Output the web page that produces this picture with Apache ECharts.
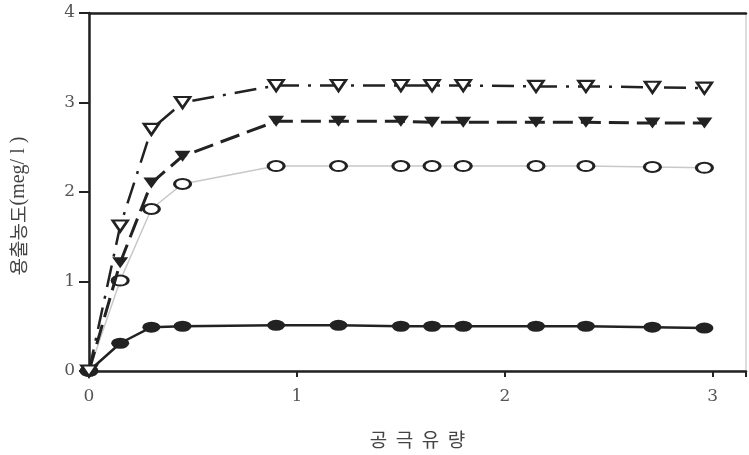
<!DOCTYPE html>
<html><head><meta charset="utf-8">
<script src="https://cdn.jsdelivr.net/npm/echarts@6/dist/echarts.min.js"></script>
<style>html,body{margin:0;padding:0;background:#fff}#c{width:749px;height:455px}</style>
</head><body><div id="c"></div>
<script>
const xValues = [0, 0.15, 0.30, 0.45, 0.90, 1.20, 1.50, 1.65, 1.80, 2.15, 2.39, 2.71, 2.96];
const openTriangle = [0, 1.62, 2.70, 3.00, 3.19, 3.19, 3.19, 3.19, 3.19, 3.18, 3.18, 3.17, 3.16];
const filledTriangle = [0, 1.21, 2.10, 2.40, 2.79, 2.79, 2.79, 2.78, 2.78, 2.78, 2.78, 2.77, 2.77];
const openCircle = [0, 1.01, 1.81, 2.09, 2.29, 2.29, 2.29, 2.29, 2.29, 2.29, 2.29, 2.28, 2.27];
const filledCircle = [0, 0.31, 0.49, 0.50, 0.51, 0.51, 0.50, 0.50, 0.50, 0.50, 0.50, 0.49, 0.48];
const xTicks = ['0', '1', '2', '3'];
const yTicks = ['0', '1', '2', '3', '4'];
const xTitle = '공  극  유  량';
const yTitleKo = '용출농도';
const yTitleUnit = '(meg/ l )';

const pair = arr => xValues.map((x, i) => [x, arr[i]]);
const numFont = '"DejaVu Serif", "Liberation Serif", serif';
const cjkFont = '"Noto Sans CJK KR", sans-serif';
const chart = echarts.init(document.getElementById('c'));
chart.setOption({
  animation: false,
  grid: { left: 89, top: 13, right: 2, bottom: 84, show: true, borderColor: '#bbb', borderWidth: 1 },
  graphic: [{
    type: 'text', x: 19, y: 206, rotation: Math.PI / 2,
    style: {
      text: '{k|' + yTitleKo + '}{s|' + yTitleUnit + '}',
      align: 'center', verticalAlign: 'middle', fill: '#444',
      rich: {
        k: { fontFamily: cjkFont, fontSize: 19, fill: '#444' },
        s: { fontFamily: '"Liberation Serif", serif', fontSize: 20, fill: '#444' }
      }
    }
  }],
  xAxis: [{
    type: 'value', min: 0, max: 3.16, interval: 1,
    axisLine: { show: true, lineStyle: { color: '#222', width: 2.5 } },
    axisTick: { show: true, length: 6, inside: false, lineStyle: { color: '#222', width: 2 } },
    axisLabel: { color: '#555', fontFamily: numFont, fontSize: 17, margin: 17,
      formatter: v => (Number.isInteger(v) && xTicks[v] !== undefined) ? xTicks[v] : '' },
    splitLine: { show: false },
    name: xTitle, nameLocation: 'middle', nameGap: 59,
    nameTextStyle: { color: '#444', fontFamily: cjkFont, fontSize: 19 }
  }, {
    type: 'value', position: 'top', min: 0, max: 3.16, interval: 1,
    axisLine: { show: true, lineStyle: { color: '#222', width: 2.5 } },
    axisTick: { show: false }, axisLabel: { show: false }, splitLine: { show: false }
  }],
  yAxis: {
    type: 'value', min: 0, max: 4, interval: 1,
    axisLine: { show: true, lineStyle: { color: '#222', width: 2.5 } },
    axisTick: { show: true, length: 10, lineStyle: { color: '#222', width: 2 } },
    axisLabel: { color: '#555', fontFamily: numFont, fontSize: 17, margin: 14,
      formatter: v => yTicks[v] },
    splitLine: { show: false }
  },
  series: [
    { name: 'openCircle', type: 'line', data: pair(openCircle), z: 2,
      lineStyle: { color: '#c8c8c8', width: 1.5 },
      symbol: 'circle', symbolSize: [16, 10],
      itemStyle: { color: '#fff', borderColor: '#222', borderWidth: 2.5 } },
    { name: 'filledCircle', type: 'line', data: pair(filledCircle), z: 3,
      lineStyle: { color: '#222', width: 2.5 },
      symbol: 'circle', symbolSize: [18, 11],
      itemStyle: { color: '#222', borderColor: '#222', borderWidth: 0 } },
    { name: 'filledTriangle', type: 'line', data: pair(filledTriangle), z: 4,
      lineStyle: { color: '#222', width: 3, type: [20, 8] },
      symbol: 'triangle', symbolRotate: 180, symbolSize: [16, 11],
      itemStyle: { color: '#222', borderColor: '#222', borderWidth: 0 } },
    { name: 'openTriangle', type: 'line', data: pair(openTriangle), z: 5,
      lineStyle: { color: '#222', width: 2.5, type: [22, 9, 3, 9] },
      symbol: 'triangle', symbolRotate: 180, symbolSize: [15, 11],
      itemStyle: { color: '#fff', borderColor: '#222', borderWidth: 2.5 } }
  ]
});
</script></body></html>
